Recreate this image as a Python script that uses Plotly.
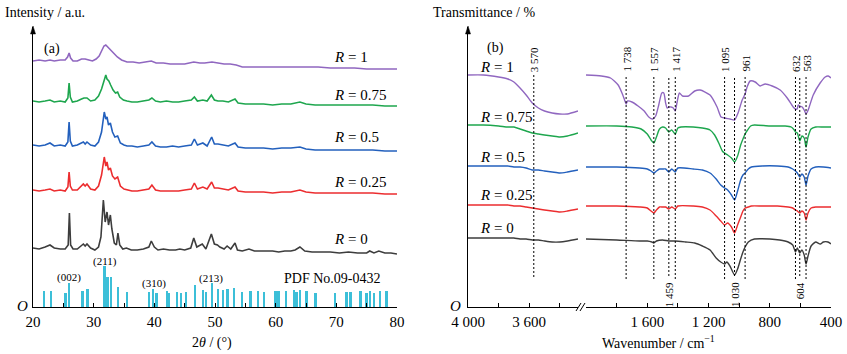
import plotly.graph_objects as go

W, H = 847, 354
FONT = "Liberation Serif"

# ---------------- XRD (left panel) ----------------
xrd_r1_x = [20, 21, 22, 22.8, 23.5, 24.5, 25.3, 25.7, 25.95, 26.2, 26.6, 27.3, 28, 28.6, 29.2, 29.8, 30.4, 30.9, 31.3, 31.7,
            32.0, 32.3, 32.7, 33.2, 33.9, 34.6, 35.5, 36.5, 37.5, 38.5, 39.5, 40.3, 41.5, 42.6, 43.8, 45, 46.5, 47.5, 48.3, 49.5,
            50.5, 51.5, 52.5, 53.5, 54.5, 56, 58, 60, 62, 64, 65.8, 67, 69, 71, 73, 75, 77, 80]
xrd_r1_y = [246, 247, 246, 247, 246, 247, 247, 250, 254, 249, 246, 246, 248, 248, 247, 246, 248, 251, 256, 261,
            262, 260, 257, 254, 250, 247, 245, 245, 244, 245, 246, 244, 244, 243, 243, 243, 245, 244, 244, 245,
            244, 243, 243, 242, 240, 240, 240, 240, 240, 240, 240, 240, 239, 239, 239, 238, 238, 238]

xrd_r075_x = [20, 21, 22, 22.8, 23.5, 24.5, 25.3, 25.75, 25.95, 26.15, 26.5, 27.3, 28, 28.4, 28.9, 29.5, 30.2, 30.8, 31.3, 31.7,
              32.0, 32.2, 32.5, 32.8, 33.2, 33.6, 33.95, 34.3, 34.9, 35.5, 36.3, 37.2, 38.2, 39.1, 39.6, 40.2, 41, 42, 43, 44,
              45, 46.1, 46.6, 47.1, 48, 48.7, 49.4, 49.9, 50.5, 51.3, 52.2, 53.3, 53.8, 55, 56.5, 58, 59.5, 61, 62.5, 64,
              65, 66.5, 68, 70, 72, 74, 76, 78, 80]
xrd_r075_y = [206, 205, 206, 207, 205, 206, 205, 209, 224, 210, 205, 206, 208, 209, 209, 206, 207, 211, 218, 226,
              232, 228, 226, 222, 217, 214, 215, 210, 207, 206, 205, 205, 206, 207, 209, 206, 205, 206, 205, 205,
              206, 207, 210, 206, 207, 206, 212, 207, 206, 206, 205, 208, 204, 203, 203, 203, 202, 203, 203, 205,
              203, 202, 202, 202, 202, 202, 202, 201, 201]

xrd_mid_x = [20, 21, 22, 22.8, 23.5, 24.5, 25.3, 25.75, 25.95, 26.15, 26.5, 27.3, 28.3, 28.6, 28.9, 29.5, 30.2, 30.8, 31.3, 31.75,
             32.0, 32.2, 32.45, 32.75, 33.1, 33.5, 33.95, 34.4, 35, 35.5, 36.3, 37.2, 38.2, 39.1, 39.6, 40.2, 41, 42, 43, 44,
             45, 46.1, 46.6, 47.1, 48, 48.7, 49.45, 49.9, 50.5, 51.3, 52.2, 53.3, 53.8, 55, 56.5, 58, 59.5, 61, 62.5, 64,
             65, 66.5, 68, 70, 72, 74, 76, 78, 80]
xrd_r05_y = [162, 161, 162, 164, 161, 162, 161, 165, 185, 166, 161, 162, 165, 163, 165, 162, 161, 165, 175, 195,
             188, 190, 182, 184, 175, 170, 171, 164, 162, 161, 161, 160, 161, 162, 165, 161, 160, 160, 161, 160,
             161, 162, 168, 162, 164, 161, 170, 163, 163, 162, 161, 164, 160, 159, 159, 159, 158, 159, 159, 160,
             158, 157, 157, 157, 157, 157, 157, 156, 156]
xrd_r025_y = [117, 116, 117, 118, 116, 117, 116, 120, 135, 121, 117, 117, 123, 121, 123, 118, 117, 121, 132, 150,
              141, 145, 137, 139, 131, 128, 130, 121, 118, 117, 116, 116, 117, 118, 122, 117, 116, 116, 116, 116,
              117, 118, 124, 118, 120, 118, 125, 119, 119, 118, 117, 120, 116, 115, 115, 115, 114, 115, 115, 117,
              115, 114, 114, 114, 114, 114, 114, 113, 113]

xrd_r0_x = [20, 21, 22, 22.8, 23.5, 24.5, 25.3, 25.8, 26.0, 26.2, 26.6, 27.3, 28.3, 28.6, 28.9, 29.5, 30.2, 30.8, 31.2, 31.6,
            31.9, 32.2, 32.45, 32.75, 33.0, 33.4, 33.75, 34.0, 34.3, 34.8, 35.4, 36.2, 37.2, 38.2, 39.1, 39.5, 40.0, 40.6, 41.5, 42.5,
            43.5, 44.2, 45, 46.0, 46.5, 47.0, 47.9, 48.5, 49.4, 49.9, 50.4, 50.8, 51.5, 52.0, 52.6, 53.3, 53.7, 54.5, 55.6, 56.5,
            57.5, 58.5, 59.5, 60.5, 61.5, 62.5, 63.2, 64.0, 64.8, 66, 67.5, 69, 70.5, 72, 73.5, 75, 75.5, 76.2, 77, 78, 79, 80]
xrd_r0_y = [59, 58, 60, 62, 59, 58, 58, 62, 94, 62, 58, 58, 63, 61, 63, 59, 57, 60, 70, 107,
            85, 95, 82, 92, 78, 64, 62, 74, 62, 58, 59, 57, 57, 58, 60, 66, 60, 57, 58, 57,
            57, 58, 57, 59, 69, 60, 63, 58, 73, 63, 62, 60, 58, 61, 58, 64, 57, 56, 58, 56,
            56, 56, 56, 55, 56, 56, 57, 60, 56, 55, 55, 55, 54, 55, 54, 54, 56, 54, 56, 54, 54, 53]

pdf_pos = [21.9, 23.0, 25.4, 26.0, 28.2, 29.0, 31.8, 32.3, 32.9, 34.0, 35.5, 39.2, 39.8, 40.4, 42.1, 42.4, 43.8, 44.4, 45.3, 46.7,
           48.1, 48.6, 49.5, 50.5, 51.4, 52.1, 53.2, 54.5, 55.9, 57.1, 58.1, 60.0, 60.5, 61.7, 63.1, 63.5, 64.1, 65.1, 66.6, 69.8,
           71.7, 72.4, 74.0, 75.0, 75.6, 76.2, 77.2, 78.3]
pdf_h = [16, 16, 14, 24, 16, 18, 41, 30, 30, 20, 15, 15, 18, 14, 16, 14, 15, 14, 15, 22,
         17, 15, 24, 18, 17, 18, 19, 15, 16, 16, 15, 16, 16, 16, 17, 15, 17, 16, 14, 14,
         15, 15, 16, 14, 16, 14, 16, 16]
hkl_text = ["(002)", "(211)", "(310)", "(213)"]
hkl_pos = [25.95, 31.9, 40.0, 49.4]
hkl_lab_y = [30, 46, 24, 29]

xrd_ticks = [20, 25, 30, 35, 40, 45, 50, 55, 60, 65, 70, 75, 80]
xrd_ticktext = ["20", " ", "30", " ", "40", " ", "50", " ", "60", " ", "70", " ", "80"]

# ---------------- FTIR (right panel) ----------------
ir_hi_wn = [4000, 3900, 3800, 3740, 3700, 3660, 3620, 3580, 3540, 3500, 3450, 3400, 3350, 3281]
ir_r1_hi = [232, 232, 230, 228, 225, 219, 212, 204, 199, 196, 194, 193, 193, 196]
ir_r075_hi = [182, 182, 181, 180, 180, 178, 176, 174, 173, 172, 171, 170, 171, 174]
ir_r05_hi = [141, 141, 141, 141, 140, 140, 139, 137, 137, 136, 135, 134, 135, 137]
ir_r025_hi = [102, 102, 102, 102, 101, 101, 100, 99, 98, 97, 96, 95, 96, 98]
ir_r0_hi = [69, 69, 69, 69, 69, 68, 68, 67, 67, 66, 65, 65, 66, 68]

ir_r1_lo_wn = [2000, 1900, 1840, 1790, 1765, 1748, 1738, 1728, 1700, 1660, 1620, 1590, 1565, 1545, 1525, 1505, 1492, 1480, 1470, 1459,
               1445, 1430, 1417, 1405, 1390, 1370, 1330, 1290, 1255, 1190, 1144, 1118, 1095, 1060, 1030, 1007, 980, 961, 948, 928,
               895, 863, 830, 784, 732, 686, 647, 632, 621, 614, 604, 588, 575, 563, 549, 516, 471, 438, 418, 400]
ir_r1_lo = [232, 231, 229, 222, 214, 207, 203, 206, 205, 201, 196, 190, 188, 191, 202, 214, 214, 204, 199, 200,
            200, 199, 196, 205, 214, 211, 211, 216, 217, 212, 200, 190, 189, 188, 187, 194, 207, 213, 220, 226,
            225, 221, 223, 221, 217, 209, 200, 198, 198, 202, 201, 200, 197, 193, 197, 212, 224, 230, 231, 229]

ir_r075_lo_wn = [2000, 1800, 1700, 1640, 1600, 1575, 1557, 1540, 1520, 1500, 1480, 1459, 1440, 1417, 1400, 1380, 1300, 1240, 1190, 1160,
                 1130, 1110, 1095, 1075, 1050, 1030, 1010, 990, 975, 961, 945, 925, 900, 800, 700, 660, 640, 632, 620, 604,
                 590, 575, 563, 550, 530, 500, 450, 400]
ir_r075_lo = [181, 181, 180, 178, 173, 167, 164, 170, 178, 180, 179, 175, 177, 173, 179, 180, 180, 179, 177, 172,
              163, 156, 154, 152, 149, 145, 151, 162, 168, 173, 177, 181, 182, 181, 181, 180, 177, 175, 174, 166,
              171, 169, 160, 170, 178, 180, 180, 180]

ir_mid_lo_wn = [2000, 1800, 1650, 1600, 1575, 1557, 1540, 1520, 1500, 1480, 1459, 1440, 1417, 1400, 1300, 1240, 1190, 1150, 1120, 1095,
                1075, 1050, 1030, 1010, 990, 975, 961, 940, 920, 850, 750, 680, 650, 632, 620, 604, 590, 575, 563, 550,
                530, 500, 450, 400]
ir_r05_lo = [140, 140, 139, 138, 136, 134, 136, 138, 138, 138, 135, 138, 135, 139, 138, 137, 134, 128, 122, 119,
             117, 112, 107, 116, 127, 132, 134, 138, 140, 141, 141, 140, 138, 136, 134, 130, 133, 130, 122, 131,
             138, 140, 140, 139]
ir_r025_lo = [101, 101, 100, 99, 96, 94, 97, 100, 100, 100, 98, 100, 98, 101, 101, 100, 97, 91, 86, 82,
              84, 80, 74, 82, 90, 96, 99, 100, 101, 101, 101, 100, 99, 97, 96, 94, 96, 94, 87, 94,
              99, 100, 100, 100]

ir_r0_lo_wn = [2000, 1800, 1650, 1600, 1570, 1557, 1540, 1500, 1459, 1417, 1350, 1290, 1240, 1190, 1150, 1120, 1095, 1080, 1060, 1030,
               1010, 990, 975, 961, 940, 900, 800, 735, 680, 650, 632, 620, 604, 590, 575, 563, 550, 530, 500, 470,
               450, 420, 400]
ir_r0_lo = [68, 67, 66, 66, 65, 64, 66, 67, 66, 66, 65, 64, 61, 57, 49, 45, 43, 45, 41, 32,
            38, 48, 55, 60, 65, 68, 68, 67, 65, 62, 55, 59, 54, 57, 52, 43, 51, 61, 65, 63,
            65, 65, 63]

ir_top_bands = [1738, 1557, 1417, 1095, 961, 632, 563]
ir_bottom_bands = [1459, 1030, 604]
ir_oh_band = 3570

series_names = ["R = 1", "R = 0.75", "R = 0.5", "R = 0.25", "R = 0"]
colors = ["#9067c0", "#1ea64e", "#2360bd", "#ec2d2f", "#3d3d3d"]
cyan = "#3cbfd8"


def px(x):
    return x / W


def py(y):
    return 1 - y / H


fig = go.Figure()

# XRD traces
xrd = [(xrd_r1_x, xrd_r1_y), (xrd_r075_x, xrd_r075_y), (xrd_mid_x, xrd_r05_y),
       (xrd_mid_x, xrd_r025_y), (xrd_r0_x, xrd_r0_y)]
for (xs, ys), c, n in zip(xrd, colors, series_names):
    fig.add_trace(go.Scatter(x=xs, y=ys, mode="lines", line=dict(color=c, width=1.6),
                             name=n, xaxis="x", yaxis="y", showlegend=False))
fig.add_trace(go.Bar(x=pdf_pos, y=pdf_h, width=0.3, marker=dict(color=cyan, line=dict(width=0)),
                     xaxis="x", yaxis="y", showlegend=False))

# IR traces
ir_hi = [ir_r1_hi, ir_r075_hi, ir_r05_hi, ir_r025_hi, ir_r0_hi]
ir_lo = [(ir_r1_lo_wn, ir_r1_lo), (ir_r075_lo_wn, ir_r075_lo), (ir_mid_lo_wn, ir_r05_lo),
         (ir_mid_lo_wn, ir_r025_lo), (ir_r0_lo_wn, ir_r0_lo)]
for hi, (lw, lo), c, n in zip(ir_hi, ir_lo, colors, series_names):
    fig.add_trace(go.Scatter(x=ir_hi_wn, y=hi, mode="lines", line=dict(color=c, width=1.4, shape="spline", smoothing=0.6),
                             xaxis="x2", yaxis="y2", showlegend=False, name=n))
    fig.add_trace(go.Scatter(x=lw, y=lo, mode="lines", line=dict(color=c, width=1.4, shape="spline", smoothing=0.6),
                             xaxis="x3", yaxis="y2", showlegend=False, name=n))

ydom = [py(307), py(27)]
axis_font = dict(family=FONT, size=15, color="black")

fig.update_layout(
    width=W, height=H, margin=dict(l=0, r=0, t=0, b=0, pad=0, autoexpand=False),
    paper_bgcolor="white", plot_bgcolor="white",
    font=dict(family=FONT, color="black"),
    showlegend=False, bargap=0,
    xaxis=dict(domain=[px(33), px(397)], range=[20, 80], anchor="y", automargin=False,
               showline=True, linecolor="black", linewidth=1, mirror=False,
               ticks="inside", ticklen=4, tickcolor="black", tickwidth=1,
               tickmode="array", tickvals=xrd_ticks, ticktext=xrd_ticktext,
               tickfont=axis_font, ticklabelstandoff=1, showgrid=False, zeroline=False),
    yaxis=dict(domain=ydom, range=[0, 280], anchor="x", automargin=False,
               showline=True, linecolor="black", linewidth=1,
               ticks="", showticklabels=False, showgrid=False, zeroline=False),
    xaxis2=dict(domain=[px(468), px(578)], range=[4000, 3281], anchor="y2", automargin=False,
                showline=True, linecolor="black", linewidth=1,
                ticks="inside", ticklen=4, tickcolor="black", tickwidth=1,
                tickmode="array", tickvals=[4000, 3800, 3600, 3400], ticktext=["4 000", " ", "3 600", " "],
                tickfont=axis_font, ticklabelstandoff=1, showgrid=False, zeroline=False),
    xaxis3=dict(domain=[px(586), px(831)], range=[2000, 400], anchor="y2", automargin=False,
                showline=True, linecolor="black", linewidth=1,
                ticks="inside", ticklen=4, tickcolor="black", tickwidth=1,
                tickmode="array", tickvals=[1800, 1600, 1400, 1200, 1000, 800, 600, 400],
                ticktext=[" ", "1 600", " ", "1 200", " ", "800", " ", "400"],
                tickfont=axis_font, ticklabelstandoff=1, showgrid=False, zeroline=False),
    yaxis2=dict(domain=ydom, range=[0, 280], anchor="x2", automargin=False,
                showline=True, linecolor="black", linewidth=1,
                ticks="", showticklabels=False, showgrid=False, zeroline=False),
)

ann = []
shapes = []


def txt(x, y, t, size=14, xanchor="center", yanchor="middle", xref="paper", yref="paper", angle=0):
    ann.append(dict(x=x, y=y, text=t, showarrow=False, xref=xref, yref=yref, xanchor=xanchor, yanchor=yanchor,
                    textangle=angle, font=dict(family=FONT, size=size, color="black"), borderpad=0))


# axis titles
txt(px(4), py(12), "Intensity / a.u.", 14, xanchor="left")
txt(px(432), py(12), "Transmittance / %", 14, xanchor="left")
txt(px(212), py(343), "2<i>θ</i> / (°)", 14)
txt(px(658), py(342), "Wavenumber / cm<sup>−1</sup>", 14)
txt(px(22), py(306), "<i>O</i>", 15)
txt(px(455), py(306), "<i>O</i>", 15)
txt(px(52), py(49), "(a)", 14)
txt(px(495), py(48), "(b)", 14)

# arrows on y axes (drawn as small filled triangles)
for xa in (33, 468):
    shapes.append(dict(type="path", xref="paper", yref="paper",
                       path=f"M {px(xa - 2.5)} {py(34)} L {px(xa)} {py(26)} L {px(xa + 2.5)} {py(34)} Z",
                       fillcolor="black", line=dict(color="black", width=0.5)))

# XRD labels
xrd_lab_y = [57, 95, 137, 182, 239]
for n, yy in zip(series_names, xrd_lab_y):
    txt(px(333), py(yy), "<i>R</i>" + n[1:], 15, xanchor="left")
txt(px(332), py(278), "PDF No.09-0432", 14)
for t, xv, yv in zip(hkl_text, hkl_pos, hkl_lab_y):
    txt(xv, yv, t, 11, xref="x", yref="y")

# IR labels
ir_lab_y = [67, 117, 157, 195, 228]
for n, yy in zip(series_names, ir_lab_y):
    txt(px(479), py(yy), "<i>R</i>" + n[1:], 15, xanchor="left")


def fmt(v):
    return f"{v:,}".replace(",", " ")


dash = dict(color="black", width=1, dash="2px,2px")
shapes.append(dict(type="line", xref="x2", yref="y2", x0=ir_oh_band, x1=ir_oh_band, y0=30, y1=232, line=dash))
txt(ir_oh_band, 234, fmt(ir_oh_band), 11, yanchor="bottom", xref="x2", yref="y2", angle=-90)
for b in ir_top_bands:
    shapes.append(dict(type="line", xref="x3", yref="y2", x0=b, x1=b, y0=28, y1=232, line=dash))
    txt(b, 234, fmt(b), 11, yanchor="bottom", xref="x3", yref="y2", angle=-90)
for b in ir_bottom_bands:
    shapes.append(dict(type="line", xref="x3", yref="y2", x0=b, x1=b, y0=31, y1=230, line=dash))
    txt(b, 26, fmt(b), 11, yanchor="top", xref="x3", yref="y2", angle=-90)

# axis break marks
for x0 in (576, 580):
    shapes.append(dict(type="line", xref="paper", yref="paper", x0=px(x0), x1=px(x0 + 5),
                       y0=py(311), y1=py(303), line=dict(color="black", width=1)))

fig.update_layout(annotations=ann, shapes=shapes)
fig.write_html("out.html", config={"displayModeBar": False},
               post_script="document.body.style.margin='0';document.body.style.padding='0';"
                           "document.body.style.overflow='hidden';")
